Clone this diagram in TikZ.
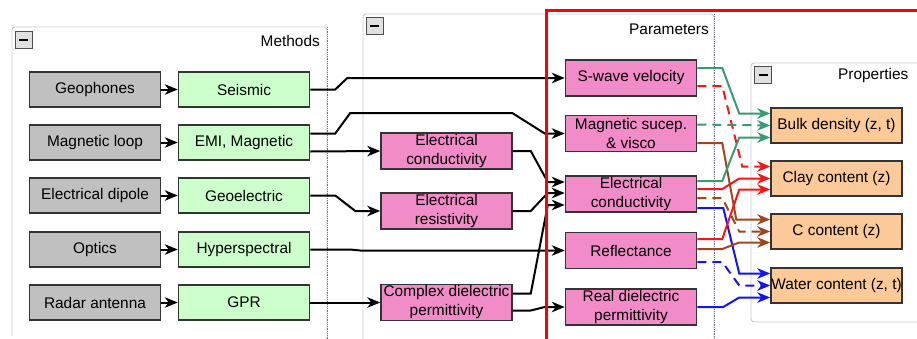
\documentclass[tikz,border=0pt]{standalone}
\usepackage{fontspec}
\setmainfont{Liberation Sans}
\usetikzlibrary{arrows.meta,calc}
\definecolor{gbfill}{RGB}{192,192,192}
\definecolor{gnfill}{RGB}{204,255,204}
\definecolor{pkfill}{RGB}{242,140,200}
\definecolor{orfill}{RGB}{252,202,152}
\definecolor{frm}{RGB}{200,200,200}
\definecolor{dotc}{RGB}{110,110,150}
\definecolor{egreen}{RGB}{58,154,114}
\definecolor{ered}{RGB}{250,20,20}
\definecolor{ebrown}{RGB}{160,70,30}
\definecolor{eblue}{RGB}{20,20,235}
\newcommand\dfont{\fontsize{15.4}{19}\selectfont}
\tikzset{
  box/.style={draw=black!80, line width=1.5pt, minimum width=131pt, minimum height=35pt, inner sep=0pt, font=\dfont, align=center},
  graybox/.style={box, fill=gbfill},
  greenbox/.style={box, fill=gnfill},
  pinkbox/.style={box, fill=pkfill, minimum height=36pt},
  orangebox/.style={box, fill=orfill},
  groupframe/.style={draw=frm, line width=0.9pt, rounded corners=3pt},
  minusbox/.style={draw=black!70, fill=black!12, line width=0.8pt, minimum width=17pt, minimum height=17pt, inner sep=0pt},
  grouptitle/.style={font=\dfont, inner sep=0pt},
  tip/.style={-{Stealth[length=13pt,width=10.5pt,inset=4pt]}},
  blk/.style={tip, draw=black, line width=2pt},
  col/.style={tip, line width=2pt, draw=#1, color=#1},
  dsh/.style={dash pattern=on 9pt off 6pt},
}
\begin{document}
\begin{tikzpicture}[x=1pt,y=-1pt]
\useasboundingbox (0,0) rectangle (917,338);
\begin{scope}
\clip (0,0) rectangle (917,338);
% group frames
\draw[groupframe] (12,336) -- (12,27) -- (327,27) -- (327,345);
\draw[dotc, densely dotted, line width=0.8pt] (327,27) -- (327,345);
\draw[groupframe] (363,345) -- (363,14) -- (714,14) -- (714,345);
\draw[dotc, densely dotted, line width=0.8pt] (714,14) -- (714,345);
\draw[groupframe] (751,63) rectangle (940,322);
\node[minusbox] (mb1) at (23.5,39.5) {};
\draw[line width=2pt] ($(mb1.center)+(-4.5,0)$) -- ($(mb1.center)+(4.5,0)$);
\node[minusbox] (mb2) at (374.5,26) {};
\draw[line width=2pt] ($(mb2.center)+(-4.5,0)$) -- ($(mb2.center)+(4.5,0)$);
\node[minusbox] (mb3) at (763,75) {};
\draw[line width=2pt] ($(mb3.center)+(-4.5,0)$) -- ($(mb3.center)+(4.5,0)$);
\node[grouptitle, anchor=east] (t1) at (320,41) {Methods};
\node[grouptitle, anchor=east] (t2) at (709,29) {Parameters};
\node[grouptitle, anchor=west] (t3) at (838,76) {Properties};
\end{scope}

% method sources
\node[graybox] (geo) at (95,89.5) {Geophones};
\node[graybox] (mloop) at (95,142.5) {Magnetic loop};
\node[graybox] (edip) at (95,195.5) {Electrical dipole};
\node[graybox] (opt) at (95,249.5) {Optics};
\node[graybox] (radar) at (95,302.5) {Radar antenna};
% methods
\node[greenbox] (seis) at (244,89.5) {Seismic};
\node[greenbox] (emi) at (244,142.5) {EMI, Magnetic};
\node[greenbox] (geoe) at (244,195.5) {Geoelectric};
\node[greenbox] (hyp) at (244,249.5) {Hyperspectral};
\node[greenbox] (gpr) at (244,302.5) {GPR};
% parameters col 1
\node[pinkbox] (ec1) at (446.5,151) {Electrical\\conductivity};
\node[pinkbox] (er) at (446.5,211) {Electrical\\resistivity};
\node[pinkbox] (cdp) at (446.5,302.5) {Complex dielectric\\permittivity};
% parameters col 2
\node[pinkbox] (sw) at (631,78) {S-wave velocity};
\node[pinkbox] (ms) at (631,133.5) {Magnetic sucep.\\\& visco};
\node[pinkbox] (ec2) at (631,194) {Electrical\\conductivity};
\node[pinkbox] (refl) at (631,250.5) {Reflectance};
\node[pinkbox] (rdp) at (631,307) {Real dielectric\\permittivity};
% properties
\node[orangebox] (bd) at (836.5,125.5) {Bulk density (z, t)};
\node[orangebox] (clay) at (836.5,178.5) {Clay content (z)};
\node[orangebox] (cc) at (836.5,231.5) {C content (z)};
\node[orangebox] (wat) at (836.5,285.5) {Water content (z, t)};

% gray -> green
\draw[blk] (geo) -- (seis);
\draw[blk] (mloop) -- (emi);
\draw[blk] (edip) -- (geoe);
\draw[blk] (opt) -- (hyp);
\draw[blk] (radar) -- (gpr);

% methods -> parameters
\draw[blk] (seis.east) -- ++(25,0) -- ++(12,-11.5) -- (sw.west);
\draw[blk] ($(emi.east)+(0,-9)$) -- ++(25,0) -- ++(15,-20.5) -- ++(162,0) -- ($(ms.west)+(-20,0)$) -- (ms.west);
\draw[blk] ($(emi.east)+(0,9)$) -- (ec1.west);
\draw[blk] (geoe.east) -- ++(25,0) -- ++(20,15.5) -- (er.west);
\draw[blk] (hyp.east) -- ++(40,0) -- ++(10,1) -- (refl.west);
\draw[blk] (gpr.east) -- (cdp.west);
\draw[blk] (ec1.east) -- ++(18,0) -- ($(ec2.west)+(-17,-12)$) -- ($(ec2.west)+(0,-12)$);
\draw[blk] (er.east) -- ++(18,0) -- ($(ec2.west)+(-17,-1)$) -- ($(ec2.west)+(0,-1)$);
\draw[blk] ($(cdp.east)+(0,-9)$) -- ++(18,0) -- ($(ec2.west)+(-17,11)$) -- ($(ec2.west)+(0,11)$);
\draw[blk] ($(cdp.east)+(0,8)$) -- ++(18,0) -- ($(rdp.west)+(-20,0)$) -- (rdp.west);

% parameters -> properties
\draw[col=egreen] ($(sw.east)+(0,-10)$) -- ++(25,0) -- ($(bd.west)+(-31,-12)$) -- ($(bd.west)+(0,-12)$);
\draw[col=ered, dsh] ($(sw.east)+(0,8)$) -- ++(25,0) -- ($(clay.west)+(-28,-12)$) -- ($(clay.west)+(0,-12)$);
\draw[col=egreen, dsh] ($(ms.east)+(0,-9)$) -- ($(bd.west)+(0,0)$);
\draw[col=ebrown] ($(ms.east)+(0,9.5)$) -- ++(25,0) -- ($(cc.west)+(-34,-12)$) -- ($(cc.west)+(0,-12)$);
\draw[col=egreen] ($(ec2.east)+(0,-13)$) -- ++(25,0) -- ($(bd.west)+(-31,12)$) -- ($(bd.west)+(0,12)$);
\draw[col=ered] ($(ec2.east)+(0,-5)$) -- ++(25,0) -- ($(clay.west)+(-31,0)$) -- (clay.west);
\draw[col=ebrown, dsh] ($(ec2.east)+(0,4)$) -- ++(25,0) -- ($(cc.west)+(-31,0)$) -- (cc.west);
\draw[col=eblue] ($(ec2.east)+(0,14)$) -- ++(26,0) -- ($(wat.west)+(-31,-12)$) -- ($(wat.west)+(0,-12)$);
\draw[col=ered] ($(refl.east)+(0,-11.5)$) -- ++(25,0) -- ($(clay.west)+(-31,11)$) -- ($(clay.west)+(0,11)$);
\draw[col=ebrown] ($(refl.east)+(0,-1.5)$) -- ++(25,0) -- ($(cc.west)+(-31,11)$) -- ($(cc.west)+(0,11)$);
\draw[col=eblue, dsh] ($(refl.east)+(0,11.5)$) -- ++(25,0) -- ($(wat.west)+(-31,0)$) -- (wat.west);
\draw[col=eblue] (rdp.east) -- ++(26,0) -- ($(wat.west)+(-31,12)$) -- ($(wat.west)+(0,12)$);

% highlight
\begin{scope}
\clip (0,0) rectangle (917,338);
\draw[red, line width=3pt] (546,345) -- (546,10) -- (930,10);
\end{scope}
\end{tikzpicture}
\end{document}
